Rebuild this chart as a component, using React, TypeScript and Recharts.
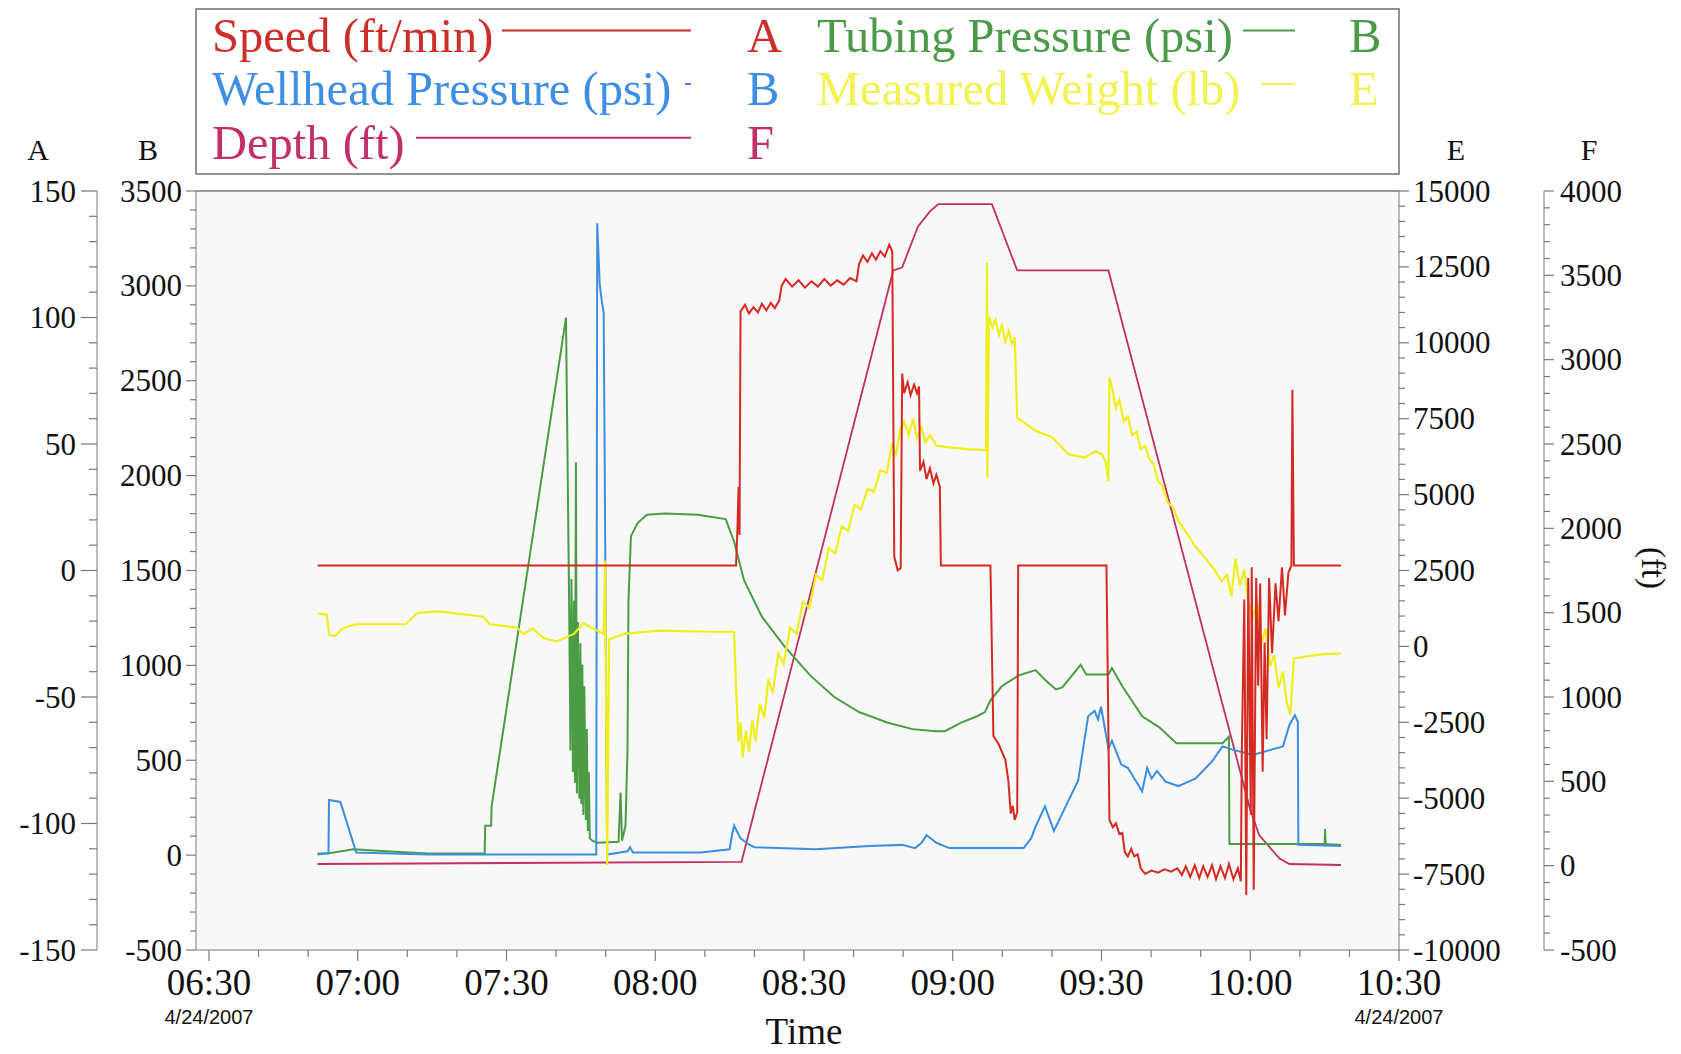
import React from 'react';
import { LineChart, Line, XAxis, YAxis, CartesianGrid, Legend } from 'recharts';

const SERIF = '"Liberation Serif", "Times New Roman", serif';
const SANS = '"Liberation Sans", Arial, sans-serif';
const AXIS = '#7a7a7a';

// x = minutes after 06:30 (4/24/2007)
const depthPts: [number, number][] = [
  [21.9, 10], [107.4, 23], [138.0, 3529], [139.8, 3548], [143.0, 3790], [145.4, 3879], [147.1, 3922],
  [157.9, 3922], [163.0, 3529], [181.4, 3529], [209.9, 342], [211.8, 182], [215.9, 42], [217.9, 10], [228.3, 4],
];

const speedPts: [number, number][] = [
  [21.9, 2], [106.3, 2], [106.6, 18], [106.8, 33], [107.0, 14], [107.2, 102.4], [108.1, 105], [108.9, 101.6],
  [109.8, 104.1], [110.7, 102], [111.5, 105.4], [112.4, 102.8], [113.3, 105.8], [114.1, 103.7], [115.0, 106.7],
  [115.5, 112.6], [116.3, 115.2], [117.6, 112.2], [118.9, 114.7], [120.2, 111.8], [121.5, 114.3], [122.8, 112.2],
  [124.1, 115.2], [125.4, 112.6], [126.7, 114.7], [128.0, 113], [129.3, 115.6], [130.6, 114.3], [131.1, 121.1],
  [131.9, 124.5], [132.8, 122], [133.7, 125.4], [134.5, 122.8], [135.4, 126.2], [136.3, 124.1], [137.2, 128.8],
  [137.8, 126.2], [138.2, 5.5], [138.9, 0], [139.5, 1], [139.8, 77.8], [140.2, 70.1], [140.9, 74.4], [141.5, 69.3],
  [142.2, 73.5], [142.8, 70.1], [143.2, 72.7], [143.4, 39.5], [144.1, 42.9], [144.7, 36.1], [145.4, 40.4],
  [146.1, 34.4], [146.7, 37.8], [147.4, 33.1], [147.6, 2], [157.6, 2], [158.2, -65.4], [159.3, -68.8],
  [160.6, -74.8], [161.2, -82.9], [161.7, -96], [162.1, -93], [162.5, -98.6], [163.0, -95.6], [163.2, 2],
  [181.0, 2], [181.6, -98.6], [182.3, -101.5], [182.9, -99.9], [183.6, -104.1], [184.2, -103.7], [184.7, -111.3],
  [185.3, -113], [186.0, -110], [186.6, -113], [187.3, -112.2], [187.9, -117.7], [188.8, -119.9], [190.1, -118.6],
  [191.4, -119.4], [192.7, -118.1], [194.0, -119], [195.3, -117.7], [196.2, -120.3], [197.0, -116.9],
  [197.9, -121.1], [198.8, -116.5], [199.7, -121.6], [200.5, -116.9], [201.4, -121.1], [202.3, -116.5],
  [203.1, -122], [204.0, -116.9], [204.9, -121.6], [205.7, -116], [206.6, -122], [207.5, -117.7], [208.1, -122.8],
  [208.3, -71], [208.8, -11.5], [209.2, -128.3], [209.6, -3], [210.1, -96.5], [210.3, 1.3], [210.7, -126.2],
  [211.2, -3], [211.6, -45.5], [212.0, -5.1], [212.5, -79.5], [212.9, -28.5], [213.3, -66.7], [213.8, -3],
  [214.4, -32.7], [215.1, -5.1], [215.7, -20], [216.4, 1.3], [217.0, -17.8], [217.7, -0.8], [218.3, 2],
  [218.5, 71.4], [218.8, 2], [228.3, 2],
];

const tubingPts: [number, number][] = [
  [21.9, 3], [25.2, 14], [29.1, 31], [35.6, 20], [44.3, 8], [55.6, 8], [55.7, 155], [56.9, 155], [57.0, 257],
  [72.0, 2833], [72.6, 1398], [72.9, 551], [73.1, 1455], [73.4, 438], [73.6, 1342], [73.8, 381], [74.0, 2071],
  [74.2, 325], [74.4, 1229], [74.7, 297], [74.9, 1116], [75.1, 268], [75.3, 1003], [75.5, 212], [75.7, 890],
  [76.0, 184], [76.2, 664], [76.4, 127], [76.6, 438], [76.8, 88], [77.3, 76], [78.3, 65], [82.6, 70], [83.0, 330],
  [83.3, 76], [84.0, 155], [84.4, 551], [84.6, 1342], [85.1, 1681], [86.4, 1749], [88.3, 1794], [92.0, 1800],
  [98.5, 1794], [104.2, 1771], [105.9, 1653], [107.9, 1449], [111.5, 1257], [116.1, 1099], [121.3, 946],
  [126.1, 833], [131.1, 754], [136.9, 698], [141.9, 664], [146.5, 653], [148.4, 653], [151.7, 698], [154.9, 732],
  [156.5, 754], [157.6, 816], [159.9, 890], [163.2, 946], [166.7, 975], [168.6, 924], [170.8, 873], [172.1, 884],
  [175.8, 1003], [176.9, 952], [181.4, 952], [182.1, 986], [184.2, 890], [188.2, 732], [191.6, 675], [195.1, 590],
  [204.4, 590], [205.7, 624], [205.8, 59], [225.0, 59], [225.1, 138], [225.2, 59], [228.3, 54],
];

const wellheadPts: [number, number][] = [
  [21.9, 8], [24.1, 8], [24.2, 291], [26.5, 280], [29.7, 14], [44.3, 3], [66.0, 3], [78.1, 3], [78.3, 3330],
  [78.8, 3008], [79.2, 2924], [79.6, 2856], [79.9, 1681], [80.3, 3], [84.4, 20], [84.9, 42], [85.5, 14],
  [99.2, 14], [105.0, 31], [105.5, 110], [105.9, 155], [107.2, 88], [108.7, 59], [110.0, 42], [122.4, 31],
  [133.2, 48], [139.8, 54], [142.4, 37], [143.7, 65], [144.7, 105], [146.7, 65], [149.3, 37], [164.3, 37],
  [165.8, 88], [166.7, 150], [168.6, 257], [170.4, 127], [175.3, 393], [177.3, 732], [178.6, 760], [179.3, 715],
  [179.9, 782], [181.4, 562], [182.1, 602], [184.0, 477], [185.3, 460], [188.2, 336], [189.2, 460], [190.1, 404],
  [191.2, 444], [192.9, 387], [195.5, 364], [199.0, 404], [202.3, 494], [204.4, 573], [206.4, 556], [210.5, 528],
  [216.6, 573], [217.9, 686], [219.0, 737], [219.6, 703], [219.7, 54], [228.3, 48],
];

const weightPts: [number, number][] = [
  [21.9, 1084], [23.7, 1048], [24.3, 375], [25.4, 340], [26.9, 588], [29.7, 729], [39.7, 729], [41.9, 1084],
  [43.2, 1119], [46.4, 1154], [55.3, 977], [56.6, 729], [62.1, 623], [63.4, 411], [65.3, 588], [67.5, 269],
  [70.1, 163], [73.6, 411], [75.5, 765], [78.3, 517], [79.6, 411], [79.9, 2819], [80.3, -7202], [80.7, 234],
  [83.8, 411], [90.5, 517], [101.1, 482], [105.9, 482], [106.3, -1360], [106.8, -3130], [107.2, -2493],
  [107.6, -3661], [108.3, -2776], [108.9, -3484], [109.6, -2422], [110.2, -3130], [111.1, -1891], [112.0, -2351],
  [112.8, -1077], [113.7, -1537], [114.8, -227], [115.9, -581], [117.2, 623], [118.5, 411], [119.8, 1473],
  [121.1, 1261], [122.4, 2358], [123.7, 2181], [125.0, 3244], [126.3, 3067], [127.6, 3952], [128.9, 3810],
  [130.2, 4660], [131.5, 4519], [132.8, 5191], [134.1, 5085], [135.4, 5793], [136.7, 5722], [137.8, 6714],
  [138.5, 6253], [139.4, 7139], [140.2, 7422], [141.1, 6962], [142.0, 7493], [142.8, 6856], [143.7, 7210],
  [144.5, 6714], [145.4, 6962], [146.7, 6608], [148.4, 6572], [152.8, 6501], [156.7, 6466], [156.9, 12627],
  [157.0, 5545], [157.3, 10857], [158.0, 10502], [158.6, 10750], [159.3, 10254], [159.9, 10573], [160.6, 10042],
  [161.3, 10396], [161.9, 9971], [162.5, 10183], [163.0, 7528], [166.7, 7103], [170.0, 6891], [173.4, 6324],
  [176.6, 6218], [178.8, 6430], [180.1, 6324], [180.8, 6112], [181.4, 5439], [181.6, 8874], [182.3, 8378],
  [182.9, 7847], [183.6, 8130], [184.5, 7422], [185.3, 7564], [186.2, 6962], [187.1, 7068], [187.9, 6501],
  [188.8, 6608], [189.7, 6147], [190.5, 6006], [191.4, 5439], [192.3, 5297], [193.4, 4731], [194.4, 4589],
  [195.5, 4129], [196.6, 3881], [197.7, 3598], [198.8, 3314], [200.1, 3067], [201.4, 2819], [202.7, 2535],
  [204.2, 2146], [205.3, 2358], [206.2, 1650], [207.0, 2889], [207.9, 2004], [208.8, 2535], [209.6, 1473],
  [210.5, 942], [211.4, 1473], [212.2, 57], [213.1, 588], [214.0, -652], [214.8, -297], [215.7, -1360],
  [216.6, -829], [217.4, -1891], [218.1, -2245], [218.8, -404], [221.1, -333], [224.4, -262], [228.3, -227],
];

const COLORS = {
  speed: '#d42a22',
  wellhead: '#3b8ee2',
  depth: '#c3305e',
  tubing: '#4b9c45',
  weight: '#eeee1c',
};

const legendItems = [
  { label: 'Speed (ft/min)', axis: 'A', color: '#cc2f2a', x: 212, y: 51.5, lineStart: 502, lineEnd: 691, letterX: 747 },
  { label: 'Wellhead Pressure (psi)', axis: 'B', color: '#3d8ee4', x: 212, y: 105, lineStart: 685, lineEnd: 691, letterX: 747 },
  { label: 'Depth (ft)', axis: 'F', color: '#c2306a', x: 212, y: 158.7, lineStart: 416, lineEnd: 691, letterX: 747 },
  { label: 'Tubing Pressure (psi)', axis: 'B', color: '#4a9a48', x: 817, y: 51.5, lineStart: 1243, lineEnd: 1295, letterX: 1349 },
  { label: 'Measured Weight (lb)', axis: 'E', color: '#f2f252', x: 817, y: 105, lineStart: 1261, lineEnd: 1295, letterX: 1349 },
];

const range = (a: number, b: number, s: number) => {
  const out: number[] = [];
  for (let v = a; v <= b + 1e-9; v += s) out.push(Math.round(v * 1000) / 1000);
  return out;
};

const xTicks = range(0, 240, 10);
const aTicks = range(-150, 150, 10);
const bTicks = range(-500, 3500, 100);
const eTicks = range(-10000, 15000, 500);
const fTicks = range(-500, 4000, 100);

const rows = (pts: [number, number][]) => pts.map(([t, v]) => ({ t, v }));

const isMult = (v: number, m: number) => Math.abs(v / m - Math.round(v / m)) < 1e-6;

const makeLeftTick = (major: number, majorLen: number, minorLen: number, gap: number) => (props: any) => {
  const { x, y, payload } = props;
  const v = payload.value;
  const maj = isMult(v, major);
  return (
    <g>
      <line x1={x - (maj ? majorLen : minorLen)} y1={y} x2={x} y2={y} stroke={AXIS} strokeWidth={1.2} />
      {maj && (
        <text x={x - majorLen - gap} y={y} dy={10.5} textAnchor="end" fontFamily={SERIF} fontSize={31} fill="#111">
          {v}
        </text>
      )}
    </g>
  );
};

const makeRightTick = (major: number, majorLen: number, minorLen: number, gap: number) => (props: any) => {
  const { x, y, payload } = props;
  const v = payload.value;
  const maj = isMult(v, major);
  return (
    <g>
      <line x1={x} y1={y} x2={x + (maj ? majorLen : minorLen)} y2={y} stroke={AXIS} strokeWidth={1.2} />
      {maj && (
        <text x={x + majorLen + gap} y={y} dy={10.5} textAnchor="start" fontFamily={SERIF} fontSize={31} fill="#111">
          {v}
        </text>
      )}
    </g>
  );
};

const fmtTime = (t: number) => {
  const total = 6 * 60 + 30 + t;
  const h = Math.floor(total / 60);
  const m = total % 60;
  return `${String(h).padStart(2, '0')}:${String(m).padStart(2, '0')}`;
};

const renderXTick = (props: any) => {
  const { x, y, payload } = props;
  const v = payload.value;
  const maj = isMult(v, 30);
  return (
    <g>
      <line x1={x} y1={y} x2={x} y2={y + (maj ? 11 : 7)} stroke={AXIS} strokeWidth={1.2} />
      {maj && (
        <text x={x} y={995} textAnchor="middle" fontFamily={SERIF} fontSize={37} fill="#111">
          {fmtTime(v)}
        </text>
      )}
      {(v === 0 || v === 240) && (
        <text x={x} y={1024} textAnchor="middle" fontFamily={SANS} fontSize={20} fill="#111">
          4/24/2007
        </text>
      )}
    </g>
  );
};

const letter = (txt: string, cx: number) => () => (
  <text x={cx} y={160} textAnchor="middle" fontFamily={SERIF} fontSize={30} fill="#111">
    {txt}
  </text>
);

const ftLabel = () => (
  <g>
    {letter('F', 1589)()}
    <text x={1642} y={568} transform="rotate(90 1642 568)" textAnchor="middle" fontFamily={SERIF} fontSize={33} fill="#111">
      (ft)
    </text>
  </g>
);

const timeLabel = () => (
  <text x={804} y={1044} textAnchor="middle" fontFamily={SERIF} fontSize={37} fill="#111">
    Time
  </text>
);

const LegendBox = () => (
  <svg width={1680} height={180} style={{ display: 'block' }}>
    <rect x={196} y={9} width={1203} height={165} fill="#ffffff" stroke="#777" strokeWidth={1.6} />
    {legendItems.map((it) => (
      <g key={it.label}>
        <text x={it.x} y={it.y} fill={it.color} fontFamily={SERIF} fontSize={48.5}>
          {it.label}
        </text>
        <line x1={it.lineStart} x2={it.lineEnd} y1={it.y - 21} y2={it.y - 21} stroke={it.color} strokeWidth={2} />
        <text x={it.letterX} y={it.y} fill={it.color} fontFamily={SERIF} fontSize={48.5}>
          {it.axis}
        </text>
      </g>
    ))}
  </svg>
);

// axis ids sort inner -> outer on each side
export default function App() {
  return (
    <div style={{ position: 'absolute', left: 0, top: 0, width: 1680, height: 1054, background: '#fff' }}>
      <LineChart width={1680} height={1054} margin={{ top: 191, right: 0, bottom: 0, left: 0 }}>
        <CartesianGrid vertical={false} horizontalPoints={[191]} stroke={AXIS} strokeWidth={1.4} fill="#f8f8f8" />
        <XAxis
          dataKey="t"
          type="number"
          domain={[0, 240]}
          ticks={xTicks}
          interval={0}
          tickSize={0}
          tickMargin={0}
          tick={renderXTick}
          height={104}
          padding={{ left: 13, right: 0 }}
          allowDataOverflow
          stroke={AXIS}
          label={timeLabel}
        />
        <YAxis
          yAxisId="L1"
          orientation="left"
          width={99}
          domain={[-500, 3500]}
          ticks={bTicks}
          interval={0}
          tickSize={0}
          tickMargin={0}
          tick={makeLeftTick(500, 10, 6, 4)}
          allowDataOverflow
          stroke={AXIS}
          label={letter('B', 148)}
        />
        <YAxis
          yAxisId="L2"
          orientation="left"
          width={97}
          domain={[-150, 150]}
          ticks={aTicks}
          interval={0}
          tickSize={0}
          tickMargin={0}
          tick={makeLeftTick(50, 16, 8, 5)}
          allowDataOverflow
          stroke={AXIS}
          label={letter('A', 38)}
        />
        <YAxis
          yAxisId="R1"
          orientation="right"
          width={145}
          domain={[-10000, 15000]}
          ticks={eTicks}
          interval={0}
          tickSize={0}
          tickMargin={0}
          tick={makeRightTick(2500, 10, 6, 4)}
          allowDataOverflow
          stroke={AXIS}
          label={letter('E', 1456)}
        />
        <YAxis
          yAxisId="R2"
          orientation="right"
          width={136}
          domain={[-500, 4000]}
          ticks={fTicks}
          interval={0}
          tickSize={0}
          tickMargin={0}
          tick={makeRightTick(500, 10, 6, 6)}
          allowDataOverflow
          stroke={AXIS}
          label={ftLabel}
        />
        <Legend
          content={LegendBox}
          layout="horizontal"
          verticalAlign="middle"
          align="center"
          wrapperStyle={{ position: 'absolute', top: 0, left: 0, width: 1680, height: 180 }}
        />
        <Line yAxisId="R2" data={rows(depthPts)} dataKey="v" name="Depth (ft)" type="linear" dot={false} activeDot={false} stroke={COLORS.depth} strokeWidth={1.8} isAnimationActive={false} />
        <Line yAxisId="L1" data={rows(tubingPts)} dataKey="v" name="Tubing Pressure (psi)" type="linear" dot={false} activeDot={false} stroke={COLORS.tubing} strokeWidth={2} isAnimationActive={false} />
        <Line yAxisId="L1" data={rows(wellheadPts)} dataKey="v" name="Wellhead Pressure (psi)" type="linear" dot={false} activeDot={false} stroke={COLORS.wellhead} strokeWidth={2} isAnimationActive={false} />
        <Line yAxisId="R1" data={rows(weightPts)} dataKey="v" name="Measured Weight (lb)" type="linear" dot={false} activeDot={false} stroke={COLORS.weight} strokeWidth={2.2} isAnimationActive={false} />
        <Line yAxisId="L2" data={rows(speedPts)} dataKey="v" name="Speed (ft/min)" type="linear" dot={false} activeDot={false} stroke={COLORS.speed} strokeWidth={2} isAnimationActive={false} />
      </LineChart>
    </div>
  );
}
